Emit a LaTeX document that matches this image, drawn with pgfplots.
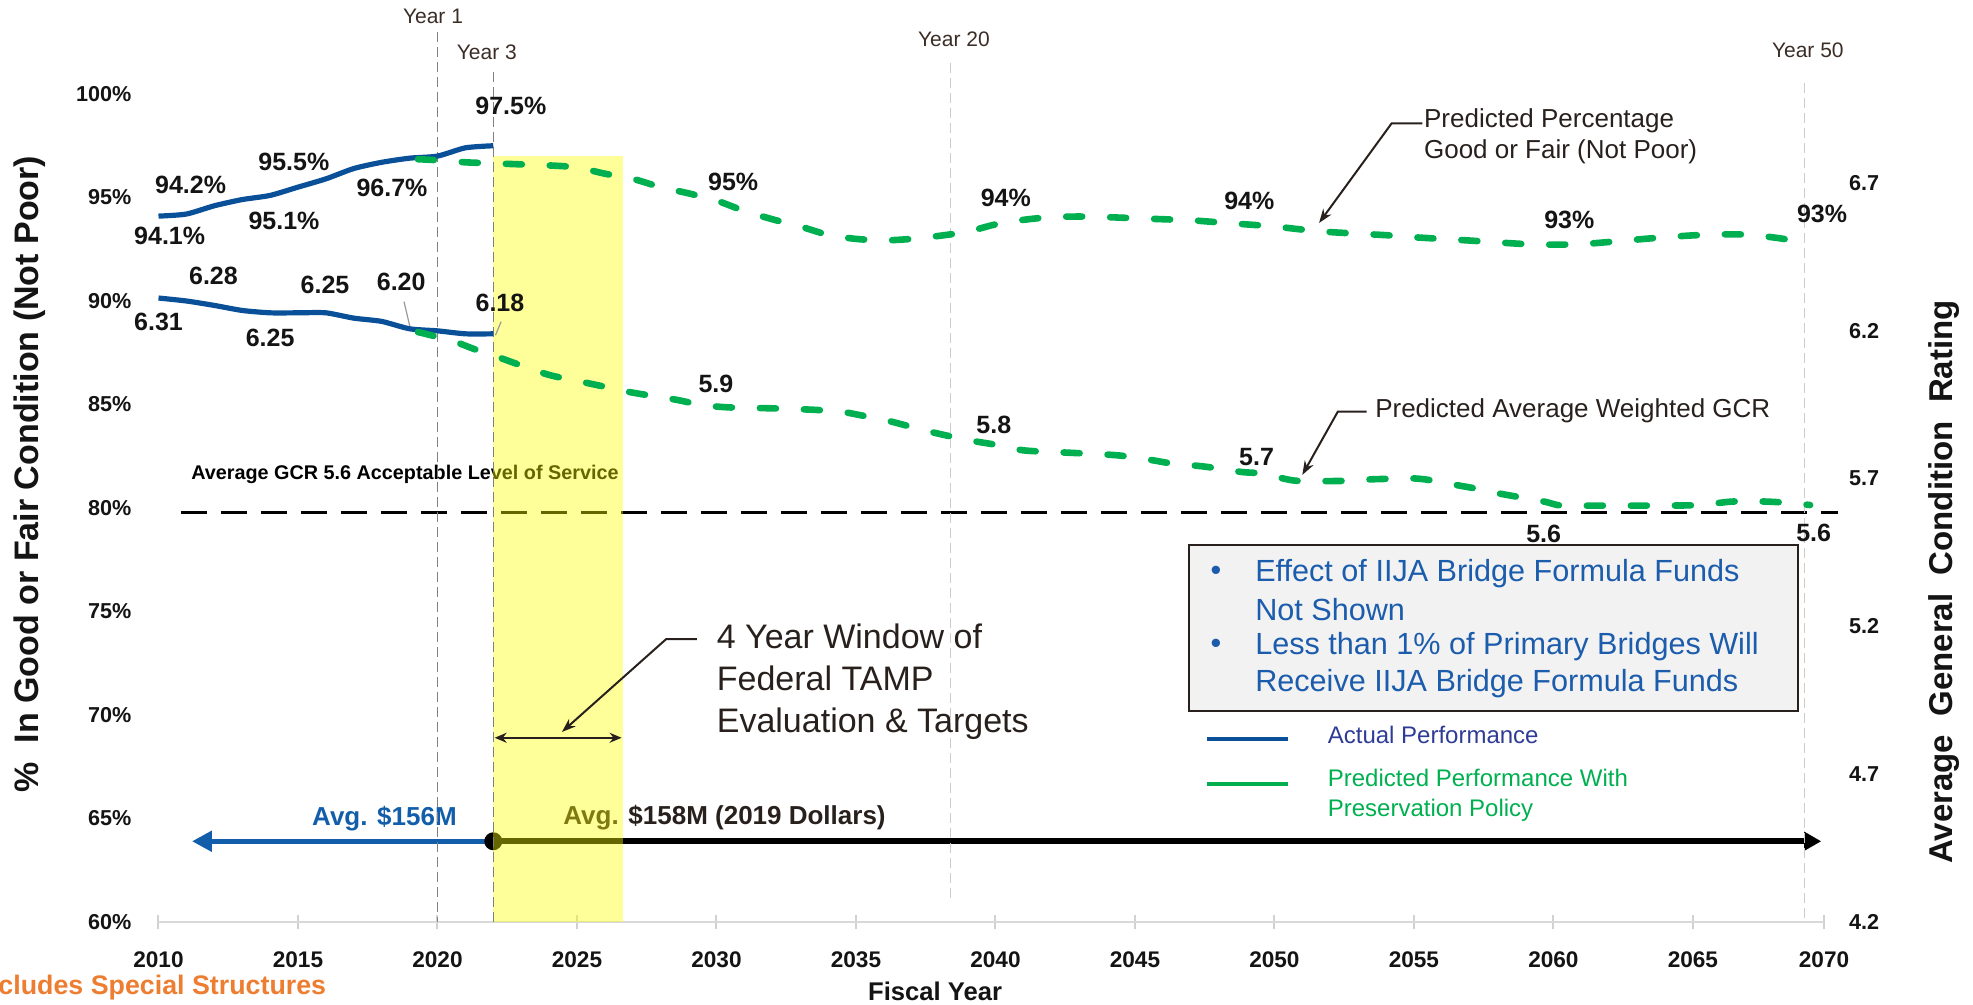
\documentclass[border=0pt]{standalone}
\usepackage{fontspec}
\setmainfont{Liberation Sans}
\usepackage{pgfplots}
\pgfplotsset{compat=1.18}
\usetikzlibrary{arrows.meta}
\definecolor{actblue}{RGB}{10,80,152}
\definecolor{predgreen}{RGB}{0,176,80}
\definecolor{avgblue}{RGB}{18,94,170}
\definecolor{boxblue}{RGB}{28,92,172}
\definecolor{legblue}{RGB}{47,60,150}
\definecolor{ann}{RGB}{40,32,28}
\definecolor{yrtxt}{RGB}{59,45,38}
\definecolor{orng}{RGB}{237,125,49}
\definecolor{hl}{RGB}{255,255,0}
\definecolor{lbl}{RGB}{20,20,20}
\begin{document}
\begin{tikzpicture}
\begin{axis}[
  name=main, at={(0,0)}, anchor=south west,
  width=832.75pt, height=414pt, scale only axis,
  xmin=2010, xmax=2069.7, ymin=60, ymax=100,
  clip=false,
  axis x line=bottom, axis y line=left,
  x axis line style={draw=black!15, line width=1pt, -},
  y axis line style={draw=none},
  xtick={2010,2015,2020,2025,2030,2035,2040,2045,2050,2055,2060,2065,2069.7},
  xticklabels={2010,2015,2020,2025,2030,2035,2040,2045,2050,2055,2060,2065,2070},
  xtick style={draw=black!18, line width=1pt},
  major tick length=7pt, tick align=center,
  ytick={60,65,70,75,80,85,90,95,100},
  yticklabels={60\%,65\%,70\%,75\%,80\%,85\%,90\%,95\%,100\%},
  ytick style={draw=none},
  tick label style={font=\fontsize{10.8}{12}\selectfont\bfseries, text=lbl},
  xticklabel style={anchor=center, yshift=-15.5pt, font=\fontsize{11.3}{12}\selectfont\bfseries},
  yticklabel style={anchor=east, xshift=-6.5pt},
  xlabel={Fiscal Year},
  xlabel style={at={(rel axis cs:0.4663,-0.0833)}, anchor=center, font=\fontsize{12.8}{14}\selectfont\bfseries, text=lbl},
  ylabel={\%\ \ In Good or Fair Condition (Not Poor)},
  ylabel style={at={(rel axis cs:-0.0772,0.541)}, anchor=center, font=\fontsize{17}{20}\selectfont\bfseries, text=lbl},
]
% acceptable level of service line
\addplot[black, line width=1.5pt, dash pattern=on 13pt off 7pt] coordinates {(2010.8,79.8) (2070.2,79.8)};
\node[anchor=west, font=\fontsize{9.9}{11}\selectfont\bfseries, text=black, inner sep=0pt] at (axis cs:2011.16,81.6) {Average GCR 5.6 Acceptable Level of Service};
% funding arrows
\draw[avgblue, line width=2.5pt, -{Triangle[length=10pt,width=10pt]}] (axis cs:2022,63.9) -- (axis cs:2011.2,63.9);
\draw[black, line width=3pt, -{Triangle[length=8.5pt,width=9pt]}] (axis cs:2022,63.9) -- (axis cs:2069.6,63.9);
\fill[black] (axis cs:2022,63.9) circle (4.5pt);
\node[font=\fontsize{13}{15}\selectfont\bfseries, text=avgblue] at (axis cs:2018.1,65.0) {Avg. \$156M};
\node[anchor=west, inner sep=0pt, font=\fontsize{13}{15}\selectfont\bfseries, text=ann] at (axis cs:2024.5,65.02) {Avg. \$158M (2019 Dollars)};
% highlight window
\fill[hl, opacity=0.4] (axis cs:2022,60) rectangle (axis cs:2026.65,97.0);
% year markers
\draw[black!50, line width=0.6pt, dash pattern=on 5pt off 2.5pt] (axis cs:2020,103.0) -- (axis cs:2020,60);
\draw[black!50, line width=0.6pt, dash pattern=on 5pt off 2.5pt] (axis cs:2022,101.06) -- (axis cs:2022,60);
\draw[black!20, line width=0.6pt, dash pattern=on 5pt off 2.5pt] (axis cs:2038.4,101.5) -- (axis cs:2038.4,60.92);
\draw[black!20, line width=0.6pt, dash pattern=on 5pt off 2.5pt] (axis cs:2069,100.53) -- (axis cs:2069,60);
\node[font=\fontsize{10.5}{12}\selectfont, text=yrtxt] at (axis cs:2019.84,103.77) {Year 1};
\node[font=\fontsize{10.5}{12}\selectfont, text=yrtxt] at (axis cs:2021.77,102.03) {Year 3};
\node[font=\fontsize{10.5}{12}\selectfont, text=yrtxt] at (axis cs:2038.51,102.66) {Year 20};
\node[font=\fontsize{10.5}{12}\selectfont, text=yrtxt] at (axis cs:2069.12,102.13) {Year 50};
% actual percentage good or fair
\addplot[actblue, line width=2.6pt, smooth, tension=0.4] coordinates {
 (2010,94.1) (2011,94.2) (2012,94.6) (2013,94.9) (2014,95.1) (2015,95.5) (2016,95.9)
 (2017,96.4) (2018,96.7) (2019,96.9) (2020,97.0) (2021,97.4) (2022,97.5)};
% predicted percentage good or fair
\addplot[predgreen, line width=3.3pt, line cap=round, dash pattern=on 8pt off 14pt, smooth, tension=0.5] coordinates {
 (2019.3,96.85) (2020,96.8) (2021,96.7) (2022,96.65) (2023,96.6) (2024,96.55) (2025,96.45)
 (2026,96.15) (2027,95.9) (2028,95.5) (2029,95.2) (2030,94.85) (2031,94.35) (2032,93.95)
 (2033,93.6) (2034,93.2) (2035,93.0) (2036,92.93) (2037,93.0) (2038,93.15) (2039,93.35)
 (2040,93.7) (2041,93.92) (2042,94.05) (2043,94.08) (2044,94.05) (2045,94.0) (2046,93.95)
 (2047,93.9) (2048,93.8) (2049,93.7) (2050,93.6) (2051,93.45) (2052,93.33) (2053,93.25)
 (2054,93.18) (2055,93.08) (2056,93.0) (2057,92.92) (2058,92.83) (2059,92.75) (2060,92.72)
 (2061,92.75) (2062,92.85) (2063,92.97) (2064,93.08) (2065,93.17) (2066,93.22) (2067,93.2)
 (2068,93.05) (2068.7,92.9)};
% data labels percentage
\begin{scope}[every node/.style={font=\fontsize{12.5}{14}\selectfont\bfseries, text=lbl}]
\node at (axis cs:2011.15,95.6) {94.2\%};
\node at (axis cs:2010.4,93.15) {94.1\%};
\node at (axis cs:2014.85,96.7) {95.5\%};
\node at (axis cs:2014.5,93.87) {95.1\%};
\node at (axis cs:2018.37,95.44) {96.7\%};
\node at (axis cs:2022.63,99.42) {97.5\%};
\node at (axis cs:2011.97,91.2) {6.28};
\node at (axis cs:2010.0,89.0) {6.31};
\node at (axis cs:2014.0,88.2) {6.25};
\node at (axis cs:2015.97,90.8) {6.25};
\node at (axis cs:2018.7,90.9) {6.20};
\node at (axis cs:2022.24,89.9) {6.18};
\node at (axis cs:2030.6,95.76) {95\%};
\node at (axis cs:2040.37,94.96) {94\%};
\node at (axis cs:2049.1,94.83) {94\%};
\node at (axis cs:2060.57,93.9) {93\%};
\node at (axis cs:2069.63,94.2) {93\%};
\node at (axis cs:2029.98,86.0) {5.9};
\node at (axis cs:2039.94,84.0) {5.8};
\node at (axis cs:2049.36,82.48) {5.7};
\node at (axis cs:2059.65,78.74) {5.6};
\node at (axis cs:2069.33,78.8) {5.6};
\end{scope}
\draw[black!40, line width=0.6pt] (axis cs:2018.8,89.97) -- (axis cs:2019.04,88.6);
\draw[black!40, line width=0.6pt] (axis cs:2022.28,89.0) -- (axis cs:2022.08,88.35);
% annotations
\node[anchor=west, align=left, inner sep=0pt, font=\fontsize{13}{15.5}\selectfont, text=ann] at (axis cs:2055.35,97.95) {Predicted Percentage\\Good or Fair (Not Poor)};
\draw[ann, line width=1pt, -{Stealth[length=7pt,width=5pt]}] (axis cs:2055.3,98.58) -- (axis cs:2054.2,98.58) -- (axis cs:2051.6,93.77);
\node[anchor=west, inner sep=0pt, font=\fontsize{13}{15.5}\selectfont, text=ann] at (axis cs:2053.6,84.7) {Predicted Average Weighted GCR};
\draw[ann, line width=1pt, -{Stealth[length=7pt,width=5pt]}] (axis cs:2053.3,84.65) -- (axis cs:2052.27,84.65) -- (axis cs:2051.0,81.6);
\node[anchor=west, align=left, inner sep=0pt, font=\fontsize{17}{21}\selectfont, text=ann] at (axis cs:2030.0,71.63) {4 Year Window of\\Federal TAMP\\Evaluation \& Targets};
\draw[ann, line width=1pt, -{Stealth[length=7pt,width=5pt]}] (axis cs:2029.3,73.67) -- (axis cs:2028.2,73.67) -- (axis cs:2024.46,69.18);
\draw[ann, line width=1pt, {Stealth[length=6pt,width=5pt]}-{Stealth[length=6pt,width=5pt]}] (axis cs:2022.05,68.9) -- (axis cs:2026.6,68.9);
% info box
\draw[fill=black!5, draw=ann, line width=1pt] (axis cs:2046.94,78.2) rectangle (axis cs:2068.77,70.17);
\begin{scope}[every node/.style={anchor=west, inner sep=0pt, font=\fontsize{15.3}{18}\selectfont, text=boxblue}]
\node at (axis cs:2047.7,76.84) {\textbullet};
\node at (axis cs:2049.3,76.84) {Effect of IIJA Bridge Formula Funds};
\node at (axis cs:2049.3,75.07) {Not Shown};
\node at (axis cs:2047.7,73.3) {\textbullet};
\node at (axis cs:2049.3,73.3) {Less than 1\% of Primary Bridges Will};
\node at (axis cs:2049.3,71.5) {Receive IIJA Bridge Formula Funds};
\end{scope}
% legend
\draw[actblue, line width=2.2pt] (axis cs:2047.6,68.83) -- (axis cs:2050.5,68.83);
\node[anchor=west, inner sep=0pt, font=\fontsize{12}{14}\selectfont, text=legblue] at (axis cs:2051.9,69.03) {Actual Performance};
\draw[predgreen, line width=2.2pt] (axis cs:2047.6,66.67) -- (axis cs:2050.5,66.67);
\node[anchor=west, align=left, inner sep=0pt, font=\fontsize{12}{15}\selectfont, text=predgreen] at (axis cs:2051.9,66.13) {Predicted Performance With\\Preservation Policy};
% footnote
\node[anchor=west, inner sep=0pt, font=\fontsize{13.4}{15}\selectfont\bfseries, text=orng] at (axis cs:2004.25,56.81) {cludes Special Structures};
\end{axis}
\begin{axis}[
  at={(0,0)}, anchor=south west,
  width=832.75pt, height=414pt, scale only axis,
  xmin=2010, xmax=2069.7, ymin=4.2, ymax=7.0,
  clip=false,
  axis x line=none, axis y line*=right,
  y axis line style={draw=none},
  ytick={4.2,4.7,5.2,5.7,6.2,6.7},
  yticklabels={4.2,4.7,5.2,5.7,6.2,6.7},
  ytick style={draw=none},
  tick label style={font=\fontsize{10.8}{12}\selectfont\bfseries, text=lbl},
  yticklabel style={anchor=west, xshift=9pt},
  ylabel={Average\ \ General\ \ Condition\ \ Rating},
  ylabel style={at={(rel axis cs:1.0718,0.4106)}, anchor=center, rotate=0, font=\fontsize{16.5}{20}\selectfont\bfseries, text=lbl},
]
\addplot[actblue, line width=2.6pt, smooth, tension=0.4] coordinates {
 (2010,6.31) (2011,6.30) (2012,6.285) (2013,6.268) (2014,6.26) (2015,6.26) (2016,6.26)
 (2017,6.242) (2018,6.231) (2019,6.206) (2020,6.199) (2021,6.189) (2022,6.189)};
\addplot[predgreen, line width=3.3pt, line cap=round, dash pattern=on 8pt off 14pt, smooth, tension=0.5] coordinates {
 (2019.3,6.195) (2020.5,6.166) (2021.3,6.138) (2022,6.116) (2023,6.082) (2024,6.05)
 (2025,6.03) (2026,6.01) (2027,5.99) (2028.5,5.967) (2029.5,5.948) (2030.5,5.94)
 (2032,5.937) (2033.5,5.932) (2034.5,5.925) (2035.2,5.913) (2036.1,5.896) (2036.8,5.879)
 (2037.7,5.857) (2038.4,5.842) (2039.1,5.828) (2040,5.814) (2041,5.795) (2042.4,5.788)
 (2043.5,5.783) (2044.5,5.777) (2045.6,5.762) (2046.3,5.751) (2047.5,5.74) (2048.8,5.722)
 (2049.5,5.717) (2050.3,5.70) (2050.8,5.692) (2051.8,5.691) (2052.6,5.692) (2053.5,5.697)
 (2054.3,5.699) (2055,5.70) (2055.6,5.694) (2056.5,5.678) (2057.2,5.666) (2058,5.65)
 (2058.7,5.638) (2059.7,5.621) (2060.3,5.608) (2061.5,5.608) (2063.5,5.608) (2065,5.609)
 (2065.5,5.612) (2066.3,5.621) (2067,5.623) (2068,5.62) (2069.2,5.61)};
\end{axis}
\pgfresetboundingbox
\path[use as bounding box] (-79.25pt,-41.5pt) rectangle (907.25pt,461pt);
\end{tikzpicture}
\end{document}
